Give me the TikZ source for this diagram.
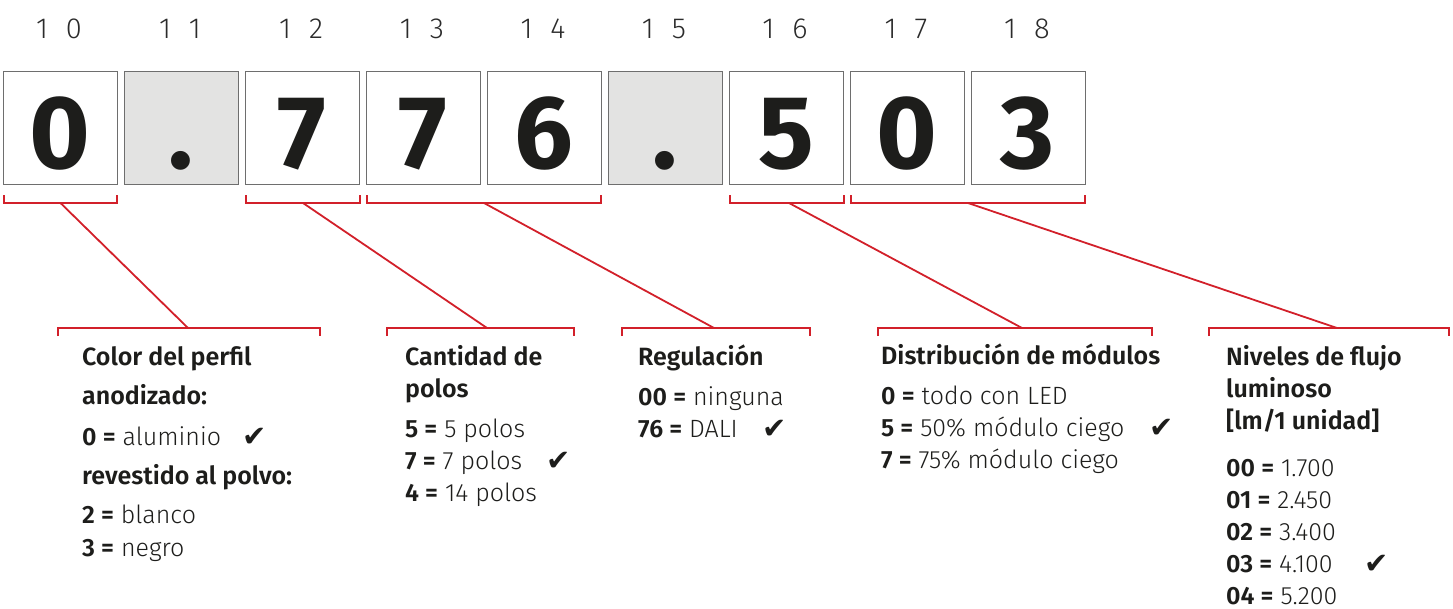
\documentclass[tikz,border=0pt]{standalone}
\usepackage{fontspec}
\setmainfont{Fira Sans Light}[BoldFont={Fira Sans SemiBold}]
\newfontfamily\digitfont{Fira Sans Bold}
\newfontfamily\topfont{Fira Sans Light}
\newfontfamily\checkfont{DejaVu Sans}
\definecolor{accent}{HTML}{D2202A}
\definecolor{cellgray}{HTML}{E3E3E2}
\definecolor{boxgray}{HTML}{6E6E6E}
\definecolor{ink}{HTML}{1D1D1B}
\definecolor{toptext}{HTML}{2B2B2B}
\begin{document}
\begin{tikzpicture}[x=1pt,y=-1pt,
  cell/.style={draw=boxgray, line width=1.2pt, minimum width=114pt, minimum height=113pt, inner sep=0pt, anchor=north west},
  digit/.style={anchor=base, inner sep=0pt, text=ink, font=\digitfont\fontsize{104}{110}\selectfont},
  toplabel/.style={anchor=base, inner sep=0pt, text=toptext, font=\topfont\fontsize{29}{32}\selectfont},
  bracket/.style={draw=accent, line width=2.2pt},
  leader/.style={draw=accent, line width=1.8pt},
  txt/.style={anchor=base west, inner sep=0pt, text=ink, font=\fontsize{25}{29}\selectfont},
  tick/.style={anchor=base west, inner sep=0pt, text=ink, font=\checkfont\fontsize{29}{32}\selectfont}]
\useasboundingbox (0,0) rectangle (1453,608);

% cells, digits and position numbers
\foreach \i/\d/\f in {0/0/white,1/./cellgray,2/7/white,3/7/white,4/6/white,5/./cellgray,6/5/white,7/0/white,8/3/white} {
  \node[cell, fill=\f] (c\i) at ({3+121*\i},71) {};
  \node[digit] (d\i) at ({60+121*\i},168) {\d};
  \node[toplabel] (n\i) at ({59+121*\i},38) {1\hskip18pt\i};
}

% top brackets
\draw[bracket] (4,195) -- (4,203) -- (117,203) -- (117,195);
\draw[bracket] (246,195) -- (246,203) -- (360,203) -- (360,195);
\draw[bracket] (367,195) -- (367,203) -- (601,203) -- (601,195);
\draw[bracket] (730,195) -- (730,203) -- (844,203) -- (844,195);
\draw[bracket] (851,195) -- (851,203) -- (1085,203) -- (1085,195);

% bottom brackets
\draw[bracket] (58,336) -- (58,328) -- (320,328) -- (320,336);
\draw[bracket] (387,336) -- (387,328) -- (574,328) -- (574,336);
\draw[bracket] (622,336) -- (622,328) -- (810,328) -- (810,336);
\draw[bracket] (878,336) -- (878,328) -- (1152,328) -- (1152,336);
\draw[bracket] (1209,336) -- (1209,328) -- (1449,328) -- (1449,336);

% leader lines
\coordinate (t1) at (60.5,203);  \coordinate (b1) at (188,328);
\coordinate (t2) at (303,203);   \coordinate (b2) at (487,328);
\coordinate (t3) at (484,203);   \coordinate (b3) at (714,328);
\coordinate (t4) at (789,203);   \coordinate (b4) at (1022,328);
\coordinate (t5) at (968,203);   \coordinate (b5) at (1337,328);
\draw[leader] (t1) -- (b1);
\draw[leader] (t2) -- (b2);
\draw[leader] (t3) -- (b3);
\draw[leader] (t4) -- (b4);
\draw[leader] (t5) -- (b5);

% block 1
\node[txt] (a1) at (82,365) {\textbf{Color del perfil}};
\node[txt] (a2) at (82,404) {\textbf{anodizado:}};
\node[txt] (a3) at (82,445) {\textbf{0 =} aluminio};
\node[txt] (a4) at (82,484) {\textbf{revestido al polvo:}};
\node[txt] (a5) at (82,523) {\textbf{2 =} blanco};
\node[txt] (a6) at (82,556) {\textbf{3 =} negro};
\node[tick] (ka) at (242,446) {✔};

% block 2
\node[txt] (p1) at (405,365) {\textbf{Cantidad de}};
\node[txt] (p2) at (405,397) {\textbf{polos}};
\node[txt] (p3) at (405,437) {\textbf{5 =} 5 polos};
\node[txt] (p4) at (405,469) {\textbf{7 =} 7 polos};
\node[txt] (p5) at (405,501) {\textbf{4 =} 14 polos};
\node[tick] (kp) at (546,470) {✔};

% block 3
\node[txt] (r1) at (638,365) {\textbf{Regulación}};
\node[txt] (r2) at (638,405) {\textbf{00 =} ninguna};
\node[txt] (r3) at (638,437) {\textbf{76 =} DALI};
\node[tick] (kr) at (762,438) {✔};

% block 4
\node[txt] (m1) at (881,364) {\textbf{Distribución de módulos}};
\node[txt] (m2) at (881,404) {\textbf{0 =} todo con LED};
\node[txt] (m3) at (881,436) {\textbf{5 =} 50\% módulo ciego};
\node[txt] (m4) at (881,468) {\textbf{7 =} 75\% módulo ciego};
\node[tick] (km) at (1149,437) {✔};

% block 5
\node[txt] (f1) at (1226,365) {\textbf{Niveles de flujo}};
\node[txt] (f2) at (1226,397) {\textbf{luminoso}};
\node[txt] (f3) at (1226,429) {\textbf{[lm/1 unidad]}};
\node[txt] (f4) at (1226,476) {\textbf{00 =} 1.700};
\node[txt] (f5) at (1226,508) {\textbf{01 =} 2.450};
\node[txt] (f6) at (1226,540) {\textbf{02 =} 3.400};
\node[txt] (f7) at (1226,572) {\textbf{03 =} 4.100};
\node[txt] (f8) at (1226,604) {\textbf{04 =} 5.200};
\node[tick] (kf) at (1364,573) {✔};
\end{tikzpicture}
\end{document}
